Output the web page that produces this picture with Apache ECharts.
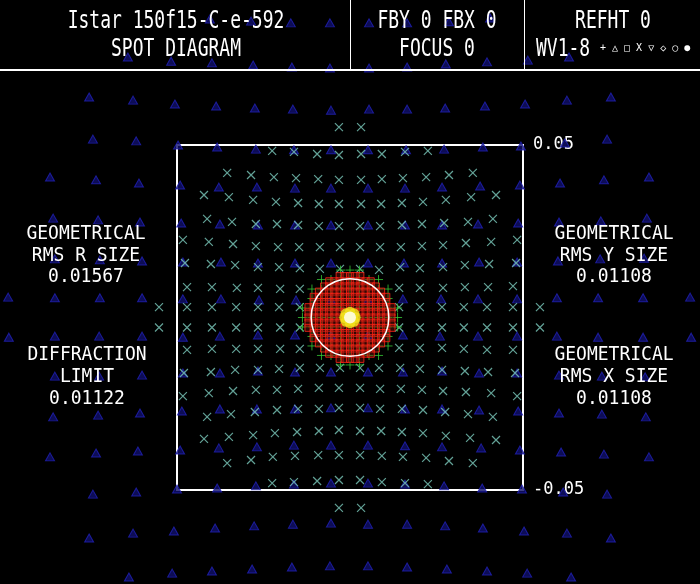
<!DOCTYPE html>
<html>
<head>
<meta charset="utf-8">
<script src="https://cdn.jsdelivr.net/npm/echarts@6/dist/echarts.min.js"></script>
<style>
html,body{margin:0;padding:0;background:#000;}
#chart{width:700px;height:584px;}
</style>
</head>
<body>
<div id="chart"></div>
<script>
// ---- values (micrometres on the image plane; box = +-0.05 mm) ----
const axisLimit = 50;
const tickLabels = ['-0.05', '0.05'];
const titleLine1 = 'Istar 150f15-C-e-592';
const titleLine2 = 'SPOT DIAGRAM';
const fieldLine1 = 'FBY 0 FBX 0';
const fieldLine2 = 'FOCUS 0';
const refLine1 = 'REFHT 0';
const refLine2 = 'WV1-8';
const legendSymbols = '+ \u25B3 \u25A1 X \u25BD \u25C7 \u25CB \u25CF';
const leftStats = [['GEOMETRICAL', 'RMS R SIZE', '0.01567'], ['DIFFRACTION', 'LIMIT', '0.01122']];
const rightStats = [['GEOMETRICAL', 'RMS Y SIZE', '0.01108'], ['GEOMETRICAL', 'RMS X SIZE', '0.01108']];
const diffractionRadius = 11.22;

// blue triangle rays
const triangleRays = [
 [-40.5,86.5],[-28.6,85.9],[-17.1,85.4],[-5.8,85.4],[5.5,85.4],[16.5,85.4],[28.6,85.7],[40.5,86.8],
 [-64.2,75.5],[-51.7,74.3],[-39.9,73.8],[-28.0,73.2],[-16.8,72.6],[-5.8,72.3],[5.5,72.3],[16.5,72.6],[27.7,73.5],[39.6,74.1],[51.4,74.6],[63.3,75.5],
 [-75.4,63.9],[-62.7,63.0],[-50.6,61.9],[-38.7,61.3],[-27.5,60.7],[-16.5,60.4],[-5.5,60.1],[5.5,60.4],[16.5,60.4],[27.5,60.7],[39.0,61.3],[50.6,61.9],[62.7,63.0],[75.4,63.9],
 [-74.3,51.7],[-61.8,51.2],[-49.7,50.0],[-38.4,49.4],[-27.2,48.8],[-16.2,48.6],[-5.5,48.6],[5.2,48.6],[16.2,48.6],[27.2,48.8],[38.4,49.4],[49.4,49.7],[62.1,50.6],[74.3,51.7],
 [-86.7,40.7],[-73.4,39.9],[-61.0,39.0],[-49.1,38.4],[-37.9,37.8],[-26.9,37.8],[-15.9,37.5],[-5.5,37.5],[5.2,37.5],[15.9,37.5],[26.6,37.8],[37.6,38.1],[49.1,38.4],[60.7,39.0],[73.4,39.9],[86.4,40.7],
 [-85.8,28.8],[-72.8,28.3],[-60.7,27.7],[-48.8,27.4],[-37.6,27.1],[-26.6,26.8],[-15.9,26.8],[-5.5,26.8],[5.2,26.8],[15.9,26.8],[26.6,26.8],[37.0,27.1],[48.6,27.4],[60.4,27.7],[72.5,28.0],[85.8,28.8],
 [-85.3,17.0],[-72.3,16.7],[-60.1,16.4],[-48.3,16.1],[-37.3,16.1],[-26.6,15.8],[-15.9,15.8],[-5.5,15.8],[5.2,15.8],[15.6,15.8],[26.6,15.8],[37.3,16.1],[48.3,16.1],[60.1,16.4],[72.3,17.0],[85.0,17.2],
 [-98.8,5.9],[-85.3,5.7],[-72.3,5.7],[-60.1,5.7],[-48.3,5.4],[-37.3,5.4],[-26.3,5.1],[-15.6,5.1],[-5.5,5.1],[5.2,5.1],[15.3,5.4],[26.3,5.4],[37.0,5.4],[48.3,5.4],[59.8,5.7],[71.7,5.7],[84.7,5.7],[98.3,5.9],
 [-98.6,-5.7],[-85.3,-5.4],[-72.5,-5.4],[-60.1,-5.4],[-48.3,-5.7],[-37.6,-5.4],[-26.6,-5.1],[-15.9,-5.1],[-5.5,-5.1],[5.2,-5.1],[15.3,-5.1],[26.0,-5.4],[37.0,-5.4],[48.3,-5.4],[59.8,-5.4],[71.7,-5.7],[84.7,-5.7],[98.6,-5.7],
 [-85.3,-17.0],[-72.5,-17.0],[-60.1,-16.7],[-48.3,-16.1],[-37.6,-16.1],[-26.6,-15.5],[-15.9,-15.8],[-5.5,-15.8],[5.2,-15.8],[15.3,-15.8],[26.6,-15.5],[37.3,-16.1],[48.3,-16.1],[60.4,-16.7],[72.8,-17.0],[85.3,-17.2],
 [-85.8,-28.8],[-72.8,-28.3],[-60.7,-27.7],[-48.6,-27.1],[-37.6,-26.5],[-26.9,-26.5],[-15.9,-26.5],[-5.5,-26.2],[5.2,-26.2],[15.9,-26.5],[26.6,-26.5],[37.3,-26.8],[48.6,-27.1],[60.4,-27.7],[72.8,-28.0],[85.5,-28.8],
 [-86.7,-40.4],[-73.4,-39.3],[-61.3,-38.7],[-49.1,-38.4],[-37.9,-37.8],[-26.9,-37.5],[-16.2,-37.0],[-5.5,-37.0],[5.2,-37.0],[15.9,-37.2],[26.6,-37.5],[37.9,-37.8],[49.1,-38.4],[61.0,-39.0],[73.4,-39.6],[86.4,-40.4],
 [-74.3,-51.2],[-61.8,-50.6],[-50.0,-49.7],[-38.4,-49.4],[-27.2,-48.8],[-16.2,-48.3],[-5.5,-48.0],[5.2,-48.0],[15.9,-48.3],[27.2,-48.8],[38.2,-49.4],[49.7,-49.7],[61.6,-50.6],[74.3,-51.2],
 [-75.4,-63.9],[-62.7,-62.5],[-50.9,-61.9],[-39.0,-61.0],[-27.7,-60.4],[-16.5,-59.9],[-5.5,-59.6],[5.2,-59.9],[16.5,-59.9],[27.5,-60.4],[38.4,-61.0],[50.3,-61.9],[62.7,-62.5],[75.4,-63.9],
 [-63.9,-75.2],[-51.4,-74.1],[-39.9,-73.5],[-28.3,-72.9],[-16.8,-72.3],[-5.8,-72.0],[5.2,-72.0],[16.5,-72.3],[28.0,-72.9],[39.6,-73.5],[51.2,-74.1],[63.9,-75.2]
];

// cyan X rays
const crossRays = [
 [-3.2,55.2],[3.2,55.2],
 [-22.5,48.3],[-16.2,48.0],[-9.5,47.4],[-3.2,47.1],[3.2,47.4],[9.2,47.4],[15.9,48.0],[22.5,48.3],
 [-35.5,41.9],[-28.6,41.3],[-22.0,40.7],[-15.6,40.4],[-9.2,40.1],[-3.2,39.9],[3.2,39.9],[9.2,40.1],[15.3,40.4],[22.0,40.7],[28.6,41.3],[35.5,41.9],
 [-42.2,35.5],[-35.0,34.9],[-28.0,34.1],[-21.4,33.5],[-15.0,33.2],[-9.0,32.9],[-3.2,32.9],[3.2,32.9],[9.0,32.9],[15.0,33.2],[21.1,33.5],[27.7,34.1],[35.0,34.9],[42.2,35.5],
 [-41.3,28.6],[-34.1,27.7],[-27.2,27.1],[-21.1,27.1],[-15.0,26.8],[-9.0,26.5],[-3.2,26.5],[2.9,26.5],[8.7,26.5],[15.0,26.8],[20.8,27.1],[27.2,27.4],[34.1,27.7],[41.3,28.6],
 [-48.3,22.5],[-40.8,21.9],[-33.8,21.3],[-27.2,20.7],[-20.8,20.4],[-14.7,20.4],[-8.7,20.4],[-2.9,20.4],[2.9,20.4],[8.7,20.4],[14.7,20.4],[20.8,20.7],[26.9,21.0],[33.5,21.6],[40.8,21.9],[48.3,22.5],
 [-47.7,15.8],[-40.2,15.5],[-33.2,15.2],[-26.6,14.6],[-20.5,14.6],[-14.5,14.3],[-8.7,14.1],[-2.9,14.1],[2.9,14.1],[8.4,13.8],[14.5,14.6],[20.2,14.3],[26.9,14.6],[33.2,15.2],[40.2,15.5],[48.0,15.8],
 [-47.1,8.8],[-39.9,8.8],[-32.7,8.6],[-26.6,8.6],[-20.2,8.3],[-14.5,8.3],[14.2,8.6],[20.2,8.6],[26.9,8.6],[33.2,8.8],[39.9,8.8],[47.1,9.1],
 [-55.2,3.0],[-47.1,3.0],[-39.9,3.0],[-32.9,3.0],[-26.6,3.0],[-20.5,3.0],[-14.5,3.0],[14.2,3.0],[20.2,3.0],[26.6,3.0],[32.9,3.0],[39.6,3.0],[47.1,3.0],[54.9,3.0],
 [-55.2,-2.9],[-47.1,-2.9],[-39.9,-2.9],[-32.9,-2.9],[-26.6,-2.9],[-20.2,-2.9],[-14.5,-2.9],[14.2,-2.9],[20.2,-2.9],[26.6,-2.9],[32.9,-2.9],[39.6,-2.9],[47.1,-2.9],[54.9,-2.9],
 [-47.1,-9.4],[-39.9,-9.1],[-32.9,-9.1],[-26.6,-9.1],[-20.2,-9.1],[-14.5,-9.1],[14.2,-8.8],[20.2,-8.8],[26.6,-8.8],[32.9,-9.1],[39.6,-9.4],[47.1,-9.4],
 [-48.0,-16.1],[-40.2,-15.8],[-33.2,-15.2],[-26.6,-15.2],[-20.5,-14.9],[-14.5,-14.6],[-8.7,-14.6],[-2.9,-14.6],[2.9,-14.6],[8.4,-14.6],[14.5,-14.6],[20.2,-14.9],[26.6,-15.2],[33.2,-15.5],[39.9,-15.8],[47.7,-16.1],
 [-48.3,-22.8],[-40.8,-21.9],[-33.8,-21.3],[-27.2,-21.0],[-21.1,-21.0],[-15.0,-20.7],[-9.0,-20.4],[-3.2,-20.4],[2.9,-20.4],[8.7,-20.7],[14.7,-20.7],[20.8,-21.0],[26.9,-21.3],[33.5,-21.6],[40.8,-21.9],[48.3,-22.8],
 [-41.3,-28.8],[-34.4,-28.0],[-27.5,-27.4],[-21.1,-26.8],[-15.0,-26.5],[-9.0,-26.5],[-3.2,-26.2],[2.9,-26.2],[8.7,-26.5],[15.0,-26.5],[21.1,-26.8],[27.5,-27.4],[34.1,-28.0],[41.3,-28.8],
 [-42.2,-35.2],[-35.0,-34.6],[-28.0,-34.1],[-21.7,-33.5],[-15.3,-33.2],[-9.0,-32.9],[-3.2,-32.6],[2.9,-32.9],[9.0,-32.9],[15.0,-33.2],[21.1,-33.5],[27.7,-34.3],[34.7,-34.9],[42.2,-35.5],
 [-35.5,-42.2],[-28.6,-41.3],[-22.3,-40.4],[-15.9,-40.1],[-9.2,-39.9],[-3.2,-39.9],[2.9,-39.9],[9.2,-40.1],[15.3,-40.4],[22.0,-40.7],[28.6,-41.6],[35.5,-42.2],
 [-22.5,-48.0],[-16.2,-47.7],[-9.5,-47.4],[-3.2,-47.1],[2.9,-47.1],[9.2,-47.7],[15.9,-48.0],[22.5,-48.3],
 [-3.2,-55.2],[3.2,-55.2]
];

// green + rays: rows of [y, [x...]]
const plusRayRows = [
 [13.75, [-2.75,0,2.75]],
 [11, [-8.25,-5.5,-2.75,0,2.75,5.5,8.25]],
 [8.25, [-11,-8.25,-5.5,-2.75,0,2.75,5.5,8.25,11]],
 [5.5, [-11,-8.25,-5.5,-2.75,0,2.75,5.5,8.25,11]],
 [2.75, [-13.75,-11,-8.25,-5.5,-2.75,0,2.75,5.5,8.25,11,13.75]],
 [0, [-13.75,-11,-8.25,-5.5,-2.75,0,2.75,5.5,8.25,11,13.75]],
 [-2.75, [-13.75,-11,-8.25,-5.5,-2.75,0,2.75,5.5,8.25,11,13.75]],
 [-5.5, [-11,-8.25,-5.5,-2.75,0,2.75,5.5,8.25,11]],
 [-8.25, [-11,-8.25,-5.5,-2.75,0,2.75,5.5,8.25,11]],
 [-11, [-8.25,-5.5,-2.75,0,2.75,5.5,8.25]],
 [-13.75, [-2.75,0,2.75]]
];

// red square rays: rows of [y, [x...]]
const squareRayRows = [
 [12, [-3,-1.5,0,1.5,3]],
 [10.5, [-6,-4.5,-3,-1.5,0,1.5,3,4.5,6]],
 [9, [-7.5,-6,-4.5,-3,-1.5,0,1.5,3,4.5,6,7.5]],
 [7.5, [-9,-7.5,-6,-4.5,-3,-1.5,0,1.5,3,4.5,6,7.5,9]],
 [6, [-10.5,-9,-7.5,-6,-4.5,-3,-1.5,0,1.5,3,4.5,6,7.5,9,10.5]],
 [4.5, [-10.5,-9,-7.5,-6,-4.5,-3,-1.5,0,1.5,3,4.5,6,7.5,9,10.5]],
 [3, [-12,-10.5,-9,-7.5,-6,-4.5,-3,-1.5,0,1.5,3,4.5,6,7.5,9,10.5,12]],
 [1.5, [-12,-10.5,-9,-7.5,-6,-4.5,-3,-1.5,0,1.5,3,4.5,6,7.5,9,10.5,12]],
 [0, [-12,-10.5,-9,-7.5,-6,-4.5,-3,-1.5,0,1.5,3,4.5,6,7.5,9,10.5,12]],
 [-1.5, [-12,-10.5,-9,-7.5,-6,-4.5,-3,-1.5,0,1.5,3,4.5,6,7.5,9,10.5,12]],
 [-3, [-12,-10.5,-9,-7.5,-6,-4.5,-3,-1.5,0,1.5,3,4.5,6,7.5,9,10.5,12]],
 [-4.5, [-10.5,-9,-7.5,-6,-4.5,-3,-1.5,0,1.5,3,4.5,6,7.5,9,10.5]],
 [-6, [-10.5,-9,-7.5,-6,-4.5,-3,-1.5,0,1.5,3,4.5,6,7.5,9,10.5]],
 [-7.5, [-9,-7.5,-6,-4.5,-3,-1.5,0,1.5,3,4.5,6,7.5,9]],
 [-9, [-7.5,-6,-4.5,-3,-1.5,0,1.5,3,4.5,6,7.5]],
 [-10.5, [-6,-4.5,-3,-1.5,0,1.5,3,4.5,6]],
 [-12, [-3,-1.5,0,1.5,3]]
];

// yellow circle rays and white dot rays at the centre
const circleRays = [[0,0],[1.5,0],[-1.5,0],[0,1.5],[0,-1.5],[1.1,1.1],[-1.1,1.1],[1.1,-1.1],[-1.1,-1.1]];
const dotRays = [[0,0]];

// ---- build ----
function rowsToPoints(rows) {
  const out = [];
  rows.forEach(function (r) { r[1].forEach(function (x) { out.push([x, r[0]]); }); });
  return out;
}

const MONO = '"DejaVu Sans Mono", "Liberation Mono", monospace';
function txt(text, x, y, sy, align, size) {
  return {
    type: 'text', x: x, y: y, scaleY: sy, z: 100,
    style: {
      text: text, fill: '#ffffff',
      font: (size || 18) + 'px ' + MONO,
      textAlign: align || 'center', textVerticalAlign: 'middle'
    }
  };
}

const graphics = [
  { type: 'line', z: 100, shape: { x1: 0, y1: 70, x2: 700, y2: 70 }, style: { stroke: '#ffffff', lineWidth: 2 } },
  { type: 'line', z: 100, shape: { x1: 350.5, y1: 0, x2: 350.5, y2: 70 }, style: { stroke: '#ffffff', lineWidth: 1 } },
  { type: 'line', z: 100, shape: { x1: 524.5, y1: 0, x2: 524.5, y2: 70 }, style: { stroke: '#ffffff', lineWidth: 1 } },
  txt(titleLine1, 176, 22, 1.35),
  txt(titleLine2, 176, 50, 1.35),
  txt(fieldLine1, 437, 22, 1.35),
  txt(fieldLine2, 437, 50, 1.35),
  txt(refLine1, 613, 22, 1.35),
  txt(refLine2, 536, 50, 1.35, 'left'),
  txt(legendSymbols, 600, 48, 1.0, 'left', 10)
];
const rowsY = [234, 256, 277];
const rowsY2 = [355, 377, 399];
leftStats[0].forEach(function (t, i) { graphics.push(txt(t, 86, rowsY[i], 1.12)); });
leftStats[1].forEach(function (t, i) { graphics.push(txt(t, 87, rowsY2[i], 1.12)); });
rightStats[0].forEach(function (t, i) { graphics.push(txt(t, 614, rowsY[i], 1.12)); });
rightStats[1].forEach(function (t, i) { graphics.push(txt(t, 614, rowsY2[i], 1.12)); });

const chart = echarts.init(document.getElementById('chart'), null, { renderer: 'canvas' });
chart.setOption({
  backgroundColor: '#000000',
  animation: false,
  grid: { left: 177, top: 145, width: 346, height: 345, show: true, borderColor: '#ffffff', borderWidth: 2, backgroundColor: 'transparent' },
  xAxis: { type: 'value', min: -axisLimit, max: axisLimit, show: false },
  yAxis: {
    type: 'value', min: -axisLimit, max: axisLimit, interval: axisLimit, position: 'right',
    axisLine: { show: false }, axisTick: { show: false }, splitLine: { show: false },
    axisLabel: {
      margin: 10, color: '#ffffff', fontFamily: MONO, fontSize: 17,
      formatter: function (v) { return v === -axisLimit ? tickLabels[0] : (v === axisLimit ? tickLabels[1] : ''); }
    }
  },
  graphic: graphics,
  series: [
    {
      type: 'scatter', name: 'triangle', clip: false, data: triangleRays, z: 2,
      symbol: 'triangle', symbolSize: [9, 8],
      itemStyle: { color: '#10106c', borderColor: '#2222b8', borderWidth: 1 }
    },
    {
      type: 'scatter', name: 'x', clip: false, data: crossRays, z: 3,
      symbol: 'path://M0,0L10,10M10,0L0,10', symbolSize: 8,
      itemStyle: { color: 'rgba(0,0,0,0)', borderColor: '#7ccabd', borderWidth: 1.2 }
    },
    {
      type: 'scatter', name: 'plus', clip: false, data: rowsToPoints(plusRayRows), z: 4,
      symbol: 'path://M5,0L5,10M0,5L10,5', symbolSize: 9,
      itemStyle: { color: 'rgba(0,0,0,0)', borderColor: '#34c834', borderWidth: 1 }
    },
    {
      type: 'scatter', name: 'square', clip: false, data: rowsToPoints(squareRayRows), z: 5,
      symbol: 'rect', symbolSize: 7,
      itemStyle: { color: 'rgba(120,20,10,0.5)', borderColor: '#ff2418', borderWidth: 1 }
    },
    {
      type: 'custom', name: 'airy', clip: false, z: 6, data: [[0, 0]],
      renderItem: function (params, api) {
        const c = api.coord([api.value(0), api.value(1)]);
        const r = api.size([diffractionRadius, 0])[0];
        return { type: 'circle', shape: { cx: c[0], cy: c[1], r: r }, style: { fill: 'none', stroke: '#ffffff', lineWidth: 1.5 } };
      }
    },
    {
      type: 'scatter', name: 'circle', clip: false, data: circleRays, z: 7,
      symbol: 'circle', symbolSize: 11,
      itemStyle: { color: '#f2e61c' }
    },
    {
      type: 'scatter', name: 'dot', clip: false, data: dotRays, z: 8,
      symbol: 'circle', symbolSize: 12,
      itemStyle: { color: '#ffffff' }
    }
  ]
});
</script>
</body>
</html>
